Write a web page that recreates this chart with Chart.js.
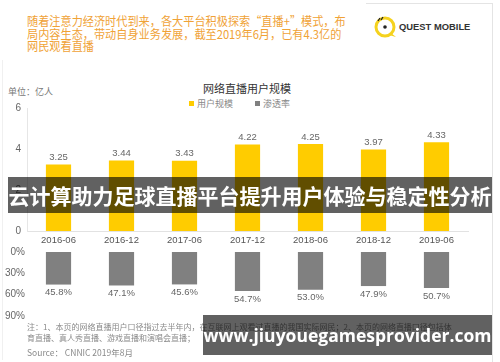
<!DOCTYPE html>
<html>
<head>
<meta charset="utf-8">
<script src="https://cdn.jsdelivr.net/npm/chart.js@4.4.0/dist/chart.umd.min.js"></script>
<style>
  html, body { margin: 0; padding: 0; }
  body {
    width: 500px; height: 362px; position: relative; overflow: hidden;
    background: #fff; font-family: "Noto Sans CJK SC", "Liberation Sans", sans-serif;
  }
  .abs { position: absolute; }
  #lineRight { left: 492px; top: 3px; width: 1px; height: 360px; background: #e4e4e4; }
  #lineTop { left: 366px; top: 3px; width: 127px; height: 1px; background: #e4e4e4; }
  #lineLeft { left: 2px; top: 60px; width: 1px; height: 300px; background: #f0f0f0; }
  #headline {
    left: 27px; top: 15px; font-size: 12px; line-height: 12.6px; color: #f0a236; white-space: nowrap;
    transform: scaleX(0.93); transform-origin: left top;
  }
  #brand { left: 399px; top: 21px; font: bold 9.4px "Liberation Sans", sans-serif; color: #333; }
  #title { left: 0; width: 494px; top: 80px; text-align: center; font-size: 11px; color: #333; }
  #unit { left: 8px; top: 85px; font-size: 9px; color: #777; }
  .legend { top: 97px; font-size: 9px; color: #888; }
  .legend i { display: inline-block; width: 5px; height: 5px; margin-right: 3px; vertical-align: 1px; }
  #up { left: 0; top: 96px; }
  #down { left: 0; top: 244px; }
  #notes { left: 27px; top: 321px; font-size: 8px; line-height: 11px; color: #8a8a8a; white-space: nowrap; }
  #source { left: 27px; top: 346px; font-size: 8.5px; color: #8a8a8a; }
  #banner {
    left: 8px; top: 177px; width: 484px; height: 36px; background: rgba(0,0,0,0.62);
    color: #fff; font-weight: bold; font-size: 21px; line-height: 36px; text-align: center; white-space: nowrap;
  }
  #site {
    left: 203px; top: 315px; width: 289px; height: 40px; background: rgba(0,0,0,0.62);
    color: #fff; font: bold 17.5px "Open Sans", "DejaVu Sans", sans-serif; line-height: 40px; text-align: center;
  }
</style>
</head>
<body>
<div class="abs" id="lineRight"></div>
<div class="abs" id="lineTop"></div>
<div class="abs" id="lineLeft"></div>

<div class="abs" id="headline">随着注意力经济时代到来，各大平台积极探索“直播+”模式，布<br>局内容生态，带动自身业务发展，截至2019年6月，已有4.3亿的<br>网民观看直播</div>

<svg class="abs" style="left:372px;top:13px" width="28" height="28" viewBox="0 0 28 28">
  <circle cx="13" cy="14" r="9" fill="none" stroke="#f5d21e" stroke-width="3"/>
  <path d="M19 20 L24 24 L17 22 Z" fill="#f5d21e"/>
  <circle cx="13" cy="14" r="1.8" fill="#222"/>
  <path d="M6 8 L8 5 M9 7 L11 4" stroke="#222" stroke-width="1.3"/>
</svg>
<div class="abs" id="brand">QUEST MOBILE</div>

<div class="abs" id="title">网络直播用户规模</div>
<div class="abs" id="unit">单位：亿人</div>
<div class="abs legend" style="left:189px"><i style="background:#ffcc00"></i>用户规模</div>
<div class="abs legend" style="left:255px"><i style="background:#808080"></i>渗透率</div>

<canvas class="abs" id="up" width="500" height="152"></canvas>
<canvas class="abs" id="down" width="500" height="80"></canvas>

<div class="abs" id="notes">注：1、本页的网络直播用户口径指过去半年内，在互联网上观看过直播的我国实际网民；2、本页的网络直播口径包括体<br>育直播、真人秀直播、游戏直播和演唱会直播；</div>
<div class="abs" id="source">Source： CNNIC 2019年8月</div>

<div class="abs" id="banner">云计算助力足球直播平台提升用户体验与稳定性分析</div>
<div class="abs" id="site">www.jiuyouegamesprovider.com</div>

<script>
const categories = ["2016-06", "2016-12", "2017-06", "2017-12", "2018-06", "2018-12", "2019-06"];
const users = [3.25, 3.44, 3.43, 4.22, 4.25, 3.97, 4.33];
const penetration = [45.8, 47.1, 45.6, 54.7, 53.0, 47.9, 50.7];
const userTicks = [0, 2, 4, 6];
const rateTicks = [0, 30, 60, 90];

Chart.defaults.font.family = "'Liberation Sans', 'Noto Sans CJK SC', sans-serif";
Chart.defaults.color = "#666";

// draws the number next to the end of each bar
const valueLabels = {
  id: "valueLabels",
  afterDatasetsDraw(chart, args, opts) {
    const ctx = chart.ctx;
    const data = chart.data.datasets[0].data;
    ctx.save();
    ctx.font = "9.5px 'Liberation Sans', sans-serif";
    ctx.fillStyle = "#666";
    ctx.textAlign = "center";
    ctx.textBaseline = "middle";
    chart.getDatasetMeta(0).data.forEach((bar, i) => {
      ctx.fillText(opts.format(data[i]), bar.x, bar.y + opts.offset);
    });
    ctx.restore();
  }
};

new Chart(document.getElementById("up"), {
  type: "bar",
  data: {
    labels: categories,
    datasets: [{
      data: users,
      backgroundColor: "#ffcc00",
      categoryPercentage: 1,
      barPercentage: 0.4,
    }],
  },
  plugins: [valueLabels],
  options: {
    responsive: false,
    animation: false,
    layout: { padding: { left: 0, right: 32, top: 10, bottom: 0 } },
    plugins: {
      legend: { display: false },
      tooltip: { enabled: false },
      valueLabels: { offset: -7, format: (v) => v.toFixed(2) },
    },
    scales: {
      x: {
        grid: { display: false, drawTicks: false },
        border: { color: "#e2e2e2" },
        ticks: { color: "#555", font: { size: 9.5 }, padding: 4, maxRotation: 0 },
        afterFit(scale) { scale.height = 17; },
      },
      y: {
        min: 0,
        max: 6,
        afterBuildTicks(scale) { scale.ticks = userTicks.map((v) => ({ value: v })); },
        grid: { display: false, drawTicks: false },
        border: { color: "#e6e6e6" },
        ticks: { color: "#666", font: { size: 10 }, padding: 6 },
        afterFit(scale) { scale.width = 27; },
      },
    },
  },
});

new Chart(document.getElementById("down"), {
  type: "bar",
  data: {
    labels: categories,
    datasets: [{
      data: penetration,
      backgroundColor: "#808080",
      categoryPercentage: 1,
      barPercentage: 0.4,
    }],
  },
  plugins: [valueLabels],
  options: {
    responsive: false,
    animation: false,
    layout: { padding: { left: 0, right: 32, top: 6, bottom: 6 } },
    plugins: {
      legend: { display: false },
      tooltip: { enabled: false },
      valueLabels: { offset: 8, format: (v) => v.toFixed(1) + "%" },
    },
    scales: {
      x: { display: false },
      y: {
        reverse: true,
        min: 0,
        max: 90,
        afterBuildTicks(scale) { scale.ticks = rateTicks.map((v) => ({ value: v })); },
        grid: { display: false, drawTicks: false },
        border: { display: false },
        ticks: { color: "#666", font: { size: 10 }, padding: 2, callback: (v) => v + "%" },
        afterFit(scale) { scale.width = 27; },
      },
    },
  },
});
</script>
</body>
</html>
